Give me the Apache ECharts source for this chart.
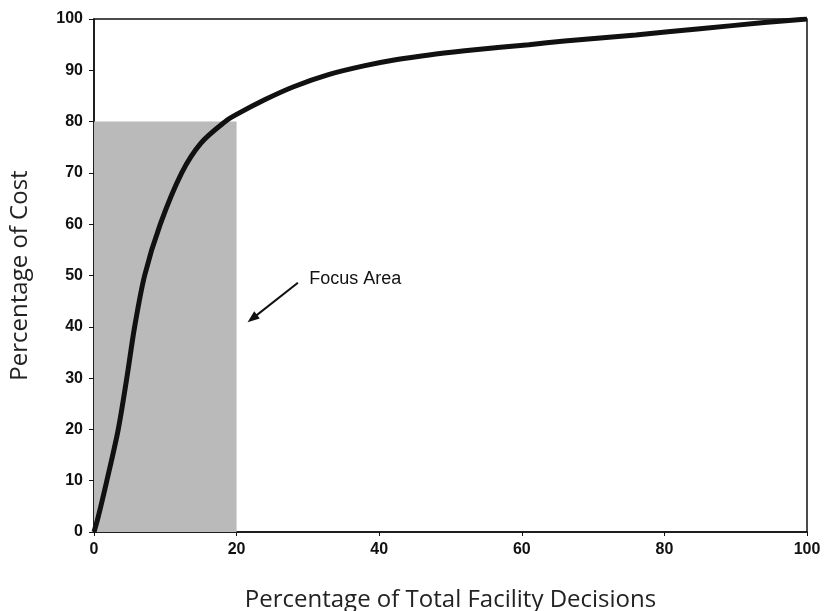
<!DOCTYPE html>
<html>
<head>
<meta charset="utf-8">
<script src="https://cdn.jsdelivr.net/npm/echarts@6/dist/echarts.min.js"></script>
<style>
  html, body { margin: 0; padding: 0; background: #fff; }
  #chart { width: 827px; height: 611px; }
</style>
</head>
<body>
<div id="chart"></div>
<script>
// cumulative cost curve
const decisionPct = [0, 0.6, 1.8, 3.4, 4.6, 5.7, 7.1, 9.3, 12.3, 15, 18.4, 20, 24, 28, 33, 38, 42.5, 47, 52, 57, 61, 66, 76, 85, 94, 100];
const costPct     = [0, 3, 10, 20, 30, 40, 50, 60, 70, 75.8, 80, 81.4, 84.3, 86.8, 89.2, 90.9, 92.1, 93.0, 93.8, 94.5, 95.0, 95.7, 96.9, 98.1, 99.3, 100];

// shaded focus area: x 0..20, y 0..80
const focusX = [0, 20];
const focusY = [0, 80];

// arrow annotation (tail -> head) and its label
const arrowFrom = [28.6, 48.6];
const arrowTo = [22.2, 41.6];
const labelAt = [30.2, 49.3];
const labelText = 'Focus Area';

const chart = echarts.init(document.getElementById('chart'));

const tickFont = { color: '#111', fontFamily: 'Liberation Sans, Arial, sans-serif', fontWeight: 'bold', fontSize: 16 };
const titleFont = { fontFamily: 'Open Sans, sans-serif', fontSize: 24, color: '#222' };

chart.setOption({
  animation: false,
  backgroundColor: '#fff',
  grid: {
    left: 94, right: 20, top: 19, bottom: 79,
    outerBoundsMode: 'none',
    containLabel: false,
    show: true, borderColor: '#111', borderWidth: 1.5, backgroundColor: 'transparent'
  },
  xAxis: {
    type: 'value', min: 0, max: 100, interval: 20,
    name: 'Percentage of Total Facility Decisions',
    nameLocation: 'middle', nameGap: 56,
    nameTextStyle: titleFont,
    axisLine: { show: true, onZero: false, lineStyle: { color: '#111', width: 1.5 } },
    axisTick: { show: true, length: 4, lineStyle: { color: '#111' } },
    axisLabel: Object.assign({ margin: 10 }, tickFont),
    splitLine: { show: false }
  },
  yAxis: {
    type: 'value', min: 0, max: 100, interval: 10,
    name: 'Percentage of Cost',
    nameLocation: 'middle', nameGap: 62,
    nameTextStyle: titleFont,
    axisLine: { show: true, onZero: false, lineStyle: { color: '#111', width: 1.5 } },
    axisTick: { show: true, length: 5, lineStyle: { color: '#111' } },
    axisLabel: Object.assign({ margin: 11 }, tickFont),
    splitLine: { show: false }
  },
  series: [
    {
      type: 'line',
      data: decisionPct.map((x, i) => [x, costPct[i]]),
      smooth: 0.3,
      showSymbol: false,
      z: 5,
      lineStyle: { color: '#111', width: 5 },
      markArea: {
        silent: true,
        itemStyle: { color: '#bababa' },
        data: [[{ coord: [focusX[0], focusY[0]] }, { coord: [focusX[1], focusY[1]] }]]
      },
      markLine: {
        silent: true,
        symbol: ['none', 'triangle'],
        symbolSize: [9, 12],
        lineStyle: { color: '#111', width: 2, type: 'solid' },
        label: { show: false },
        data: [[{ coord: arrowFrom }, { coord: arrowTo }]]
      },
      markPoint: {
        silent: true,
        symbol: 'circle',
        symbolSize: 0,
        label: {
          show: true, position: 'right', distance: 0,
          formatter: labelText,
          fontFamily: 'Liberation Sans Narrow, Arial Narrow, sans-serif',
          fontSize: 18, color: '#111'
        },
        data: [{ coord: labelAt }]
      }
    }
  ]
});
</script>
</body>
</html>
